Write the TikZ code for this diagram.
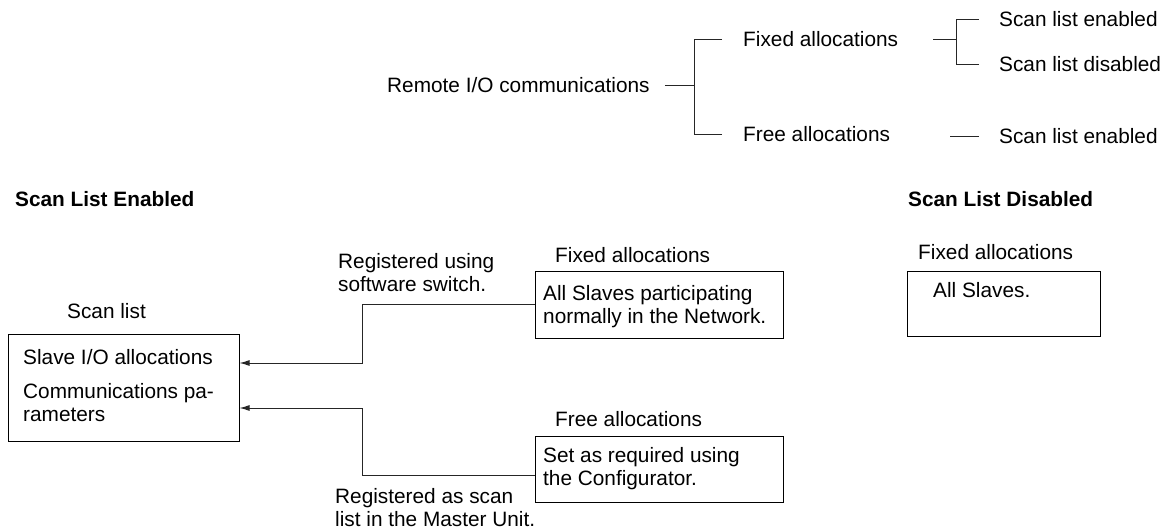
\documentclass[tikz,border=0pt]{standalone}
\usepackage{fontspec}
\setmainfont{Liberation Sans}
\usetikzlibrary{arrows.meta}
\tikzset{
  lbl/.style={inner sep=0pt, anchor=base west},
  para/.style={inner sep=0pt, anchor=north west, align=left},
  box/.style={draw, line width=1pt, inner sep=0pt},
  ln/.style={line width=1pt, draw=black!85},
  arr/.style={ln, -{Latex[length=10pt,width=6pt]}}
}
\begin{document}
\begin{tikzpicture}[x=1pt, y=-1pt, font=\fontsize{20.8}{23}\selectfont]
\useasboundingbox (0,0) rectangle (1167,529);
% top tree
\node[lbl] (remote) at (387,93) {Remote I/O communications};
\node[lbl] (fixtop) at (743,47) {Fixed allocations};
\node[lbl] (freetop) at (743,142) {Free allocations};
\node[lbl] (sle1) at (999,27) {Scan list enabled};
\node[lbl] (sld) at (999,72) {Scan list disabled};
\node[lbl] (sle2) at (999,144) {Scan list enabled};

\draw[ln] ([xshift=15pt]remote.east) -- ++(30,0) coordinate (fork1);
\draw[ln] ([xshift=-21pt]fixtop.west) -| (fork1);
\draw[ln] ([xshift=-21pt]freetop.west) -| (fork1);
\draw[ln] ([xshift=35pt]fixtop.east) -- ++(23,0) coordinate (fork2);
\draw[ln] ([xshift=-20pt]sle1.west) -| (fork2);
\draw[ln] ([xshift=-20pt]sld.west) -| (fork2);
\draw[ln] ([xshift=-20pt]sle2.west) -- ++(-29,0);

% headings
\node[lbl, font=\fontsize{20.8}{23}\selectfont\bfseries] (hen) at (15,207) {Scan List Enabled};
\node[lbl, font=\fontsize{20.8}{23}\selectfont\bfseries] (hdis) at (908,207) {Scan List Disabled};

% scan list
\node[lbl] (scanlbl) at (67,318) {Scan list};
\node[box, minimum width=231pt, minimum height=107pt] (scanbox) at (123.5,387.5) {};
\node[lbl] (slave) at (23,364) {Slave I/O allocations};
\node[para] (comm) at (23,383) {Communications pa-\\rameters};
\coordinate (in1) at ([yshift=24.5pt]scanbox.east);
\coordinate (in2) at ([yshift=-20.5pt]scanbox.east);

% fixed allocations
\node[lbl] (fixlbl) at (555,263) {Fixed allocations};
\node[box, minimum width=248pt, minimum height=66pt] (fixbox) at (659,305) {};
\node[para] (fixtxt) at (543,285) {All Slaves participating\\normally in the Network.};
\node[para] (regsw) at (338,253) {Registered using\\software switch.};

% free allocations
\node[lbl] (freelbl) at (555,426) {Free allocations};
\node[box, minimum width=248pt, minimum height=66pt] (freebox) at (659,469) {};
\node[para] (freetxt) at (543,447) {Set as required using\\the Configurator.};
\node[para] (regms) at (335,488) {Registered as scan\\list in the Master Unit.};

\draw[arr] (fixbox.west) -- ++(-172,0) |- (in1);
\draw[arr] ([yshift=-6pt]freebox.west) -- ++(-172,0) |- (in2);

% scan list disabled
\node[lbl] (dislbl) at (918,260) {Fixed allocations};
\node[box, minimum width=193pt, minimum height=64pt] (disbox) at (1003.5,304) {};
\node[lbl] (distxt) at (933,298) {All Slaves.};
\end{tikzpicture}
\end{document}
